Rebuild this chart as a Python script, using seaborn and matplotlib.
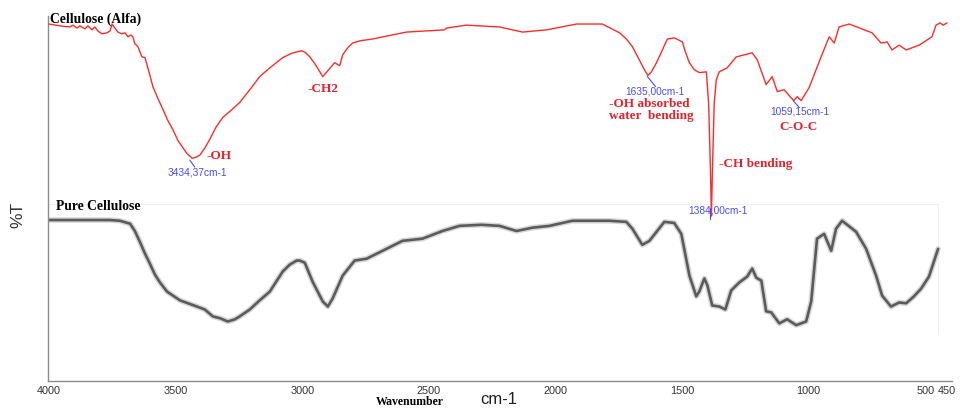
import numpy as np
import pandas as pd
import matplotlib
matplotlib.use("Agg")
import matplotlib.pyplot as plt
import matplotlib.transforms as mtransforms
import seaborn as sns

# FTIR transmittance spectra (wavenumber in cm-1, transmittance in arbitrary %T units)
alfa_wavenumber = [4000, 3957, 3917, 3905, 3890, 3878, 3858, 3846, 3830, 3819, 3807,
                   3791, 3771, 3759, 3751, 3740, 3728, 3712, 3700, 3688, 3677, 3669,
                   3661, 3649, 3633, 3621, 3613, 3602, 3590, 3570, 3550, 3531, 3511,
                   3491, 3475, 3456, 3434.37, 3420, 3404, 3385, 3365, 3341, 3314,
                   3282, 3247, 3207, 3168, 3128, 3077, 3037, 3002, 2986, 2970, 2947,
                   2919, 2899, 2872, 2852, 2840, 2820, 2801, 2772, 2722, 2588, 2438,
                   2430, 2351, 2221, 2130, 2035, 1917, 1815, 1747, 1720, 1696, 1669,
                   1649, 1635.0, 1621, 1601, 1581, 1558, 1530, 1499, 1487, 1471, 1452,
                   1432, 1404, 1395, 1388, 1384.0, 1380, 1373, 1365, 1353, 1322, 1286,
                   1223, 1203, 1168, 1144, 1124, 1097, 1059.15, 1045, 1030, 998, 951,
                   919, 899, 880, 840, 750, 714, 690, 671, 643, 615, 564, 513, 497,
                   481, 469, 454]
alfa_transmittance = [97.8, 97.3, 97.0, 97.5, 96.7, 97.3, 96.5, 97.3, 96.2, 97.0, 95.9,
                      95.1, 95.4, 95.9, 97.8, 96.7, 95.6, 95.1, 95.4, 94.3, 94.8, 94.3,
                      92.4, 91.6, 88.8, 88.6, 86.6, 83.9, 80.7, 77.4, 74.4, 71.4, 68.9,
                      65.9, 64.3, 62.4, 61.0, 61.3, 61.9, 63.8, 66.2, 69.5, 72.2,
                      74.1, 76.3, 79.8, 83.4, 85.8, 88.6, 89.9, 90.5, 89.9, 88.8, 86.6,
                      83.4, 85.0, 87.2, 86.4, 89.4, 91.3, 92.6, 93.2, 93.7, 95.6, 96.2,
                      96.7, 97.5, 97.0, 95.6, 96.2, 97.8, 97.8, 95.4, 93.7, 91.6, 88.0,
                      85.3, 83.7, 84.7, 87.2, 90.2, 93.7, 94.0, 92.9, 90.2, 87.2, 85.3,
                      84.5, 84.7, 76.0, 58.0, 45.2, 58.0, 76.0, 82.5, 84.7, 85.8, 88.8,
                      89.9, 88.0, 81.2, 83.4, 79.3, 79.8, 76.8, 77.9, 76.8, 80.4, 88.8,
                      94.3, 92.6, 97.0, 97.8, 95.4, 92.6, 92.9, 90.7, 92.0, 90.7, 92.0,
                      94.3, 97.5, 98.1, 97.5, 98.1]

pure_wavenumber = [4000, 3759, 3720, 3680, 3661, 3641, 3621, 3602, 3582, 3562, 3534,
                   3483, 3416, 3385, 3353, 3325, 3294, 3266, 3247, 3207, 3168, 3128,
                   3077, 3049, 3022, 3010, 2990, 2959, 2919, 2899, 2880, 2840, 2793,
                   2746, 2682, 2604, 2525, 2446, 2379, 2292, 2221, 2154, 2091, 2024,
                   1933, 1787, 1720, 1696, 1657, 1629, 1570, 1531, 1503, 1471, 1444,
                   1432, 1412, 1400, 1381, 1353, 1329, 1306, 1274, 1243, 1223, 1207,
                   1187, 1168, 1148, 1116, 1085, 1049, 1010, 990, 967, 939, 911, 892,
                   868, 813, 773, 734, 710, 675, 643, 615, 584, 556, 525, 489]
pure_transmittance = [44.1, 44.1, 43.9, 43.1, 41.1, 38.1, 34.9, 32.2, 29.2, 27.0, 24.5,
                      22.1, 20.4, 19.6, 17.7, 17.2, 16.3, 16.9, 17.7, 19.6, 22.1, 24.5,
                      30.0, 31.9, 33.0, 33.0, 32.4, 27.2, 21.8, 20.4, 22.6, 28.9, 33.0,
                      33.5, 35.7, 38.4, 39.0, 41.1, 42.5, 42.8, 42.5, 41.1, 42.0, 42.5,
                      43.9, 43.9, 43.6, 41.7, 37.3, 38.4, 43.6, 43.3, 40.3, 28.9, 23.2,
                      24.5, 28.1, 26.2, 20.7, 20.4, 19.6, 24.8, 27.0, 28.6, 30.8, 28.3,
                      27.5, 19.1, 18.8, 15.8, 16.9, 15.3, 16.3, 21.8, 39.0, 40.3, 35.7,
                      41.7, 43.9, 40.9, 36.2, 28.9, 23.4, 20.4, 21.5, 21.3, 23.2, 25.3,
                      28.6, 36.2]

x_ticks = [4000, 3500, 3000, 2500, 2000, 1500, 1000, 500, 450]
x_tick_labels = ["4000", "3500", "3000", "2500", "2000", "1500", "1000", "500", "450"]
y_ticks = [90.7, 83.7, 76.6, 69.8, 62.7, 55.9, 44.4, 35.7, 28.9, 20.4, 13.6, 6.5]

# labelled band positions: (wavenumber, label)
peak_labels = [(3434.37, "3434,37cm-1"), (1635.0, "1635,00cm-1"),
               (1059.15, "1059,15cm-1"), (1384.0, "1384,00cm-1")]

alfa = pd.DataFrame({"wavenumber": alfa_wavenumber, "T": alfa_transmittance})
pure = pd.DataFrame({"wavenumber": pure_wavenumber, "T": pure_transmittance})

sns.set_style("white")
plt.rcParams["font.family"] = ["Liberation Sans", "DejaVu Sans"]

W, H = 963, 408
fig = plt.figure(figsize=(W / 100, H / 100), dpi=100)
ax = fig.add_axes([48 / W, 27 / H, 904 / W, 365 / H])

RED = "#ff2b2b"
LABEL_RED = "#e8202a"
BLUE = "#4a4aff"
SERIF = ["Liberation Serif", "DejaVu Serif"]

# faint frame of the scanned reference spectrum
ax.plot([4004, 490, 490], [48.4, 48.4, 13.0], color="#f0f0f0", lw=0.8, zorder=0)

# pure cellulose: soft, thick grey trace
sns.lineplot(data=pure, x="wavenumber", y="T", ax=ax, color="#bdbdbd",
             lw=4.0, alpha=0.6, estimator=None, sort=False, zorder=1)
sns.lineplot(data=pure, x="wavenumber", y="T", ax=ax, color="#5b5b5b",
             lw=1.9, estimator=None, sort=False, zorder=2)
# cellulose (Alfa): thin red trace
sns.lineplot(data=alfa, x="wavenumber", y="T", ax=ax, color=RED,
             lw=1.0, estimator=None, sort=False, zorder=3)

ax.set_xlim(4004, 434)
ax.set_ylim(0, 100)
ax.set_xticks(x_ticks)
ax.set_xticklabels(x_tick_labels)
ax.set_yticks(y_ticks)
ax.set_yticklabels([])
ax.set_xlabel("")
ax.set_ylabel("")
for side in ("top", "right"):
    ax.spines[side].set_visible(False)
for side in ("left", "bottom"):
    ax.spines[side].set_color("#8c8c8c")
    ax.spines[side].set_linewidth(1.0)
ax.tick_params(axis="x", direction="out", length=2.5, width=0.8, color="#8c8c8c",
               labelsize=7.8, labelcolor="#333333", pad=0.8)
ax.tick_params(axis="y", direction="out", length=3, width=0.8, color="#8c8c8c")
ax.grid(False)

# the two closely spaced end ticks: 500 ends at its tick, 450 sits just right of it
xt_labels = ax.get_xticklabels()
xt_labels[7].set_ha("right")
xt_labels[7].set_transform(xt_labels[7].get_transform() +
                           mtransforms.ScaledTranslation(-1 / 100, 0, fig.dpi_scale_trans))
xt_labels[8].set_ha("left")
xt_labels[8].set_transform(xt_labels[8].get_transform() +
                           mtransforms.ScaledTranslation(-10 / 100, 0, fig.dpi_scale_trans))

# series titles
ax.text(3996, 99.2, "Cellulose (Alfa)", fontsize=9.8, fontweight="bold",
        family=SERIF, color="black", va="center", ha="left")
ax.text(3972, 47.7, "Pure Cellulose", fontsize=9.8, fontweight="bold",
        family=SERIF, color="black", va="center", ha="left")

# band assignments
band_text = [
    (3377, 61.6, "-OH", "left"),
    (2978, 80.1, "-CH2", "left"),
    (1787, 74.2, "-OH absorbed\nwater  bending", "left"),
    (1041, 69.5, "C-O-C", "center"),
    (1353, 59.4, "-CH bending", "left"),
]
for x, y, s, ha in band_text:
    ax.text(x, y, s, fontsize=9.5, fontweight="bold", family=SERIF, color=LABEL_RED,
            va="center", ha=ha, linespacing=1.0)

# peak position labels with leader lines
label_pos = {3434.37: (3415, 57.2), 1635.0: (1609, 79.3),
             1059.15: (1034, 73.8), 1384.0: (1360, 46.6)}
leaders = {3434.37: ((3444, 60.5), (3424, 58.6)),
           1635.0: ((1637, 83.4), (1605, 80.7)),
           1059.15: ((1061, 76.8), (1037, 74.9)),
           1384.0: ((1388, 47.5), (1388, 44.5))}
for wn, s in peak_labels:
    lx, ly = label_pos[wn]
    ax.text(lx, ly, s, fontsize=7.3, color=BLUE, va="center", ha="center")
    (x0, y0), (x1, y1) = leaders[wn]
    ax.plot([x0, x1], [y0, y1], color=BLUE, lw=0.8, zorder=4)

fig.text(18 / W, 1 - 215 / H, "%T", rotation=90, fontsize=12.5, color="#333333",
         va="center", ha="center")
fig.text(410 / W, 1 - 402 / H, "Wavenumber", fontsize=8.5, fontweight="bold",
         family=SERIF, color="black", va="center", ha="center")
fig.text(499 / W, 1 - 400 / H, "cm-1", fontsize=12, color="#222222",
         va="center", ha="center")

fig.savefig("out.png", dpi=100)
